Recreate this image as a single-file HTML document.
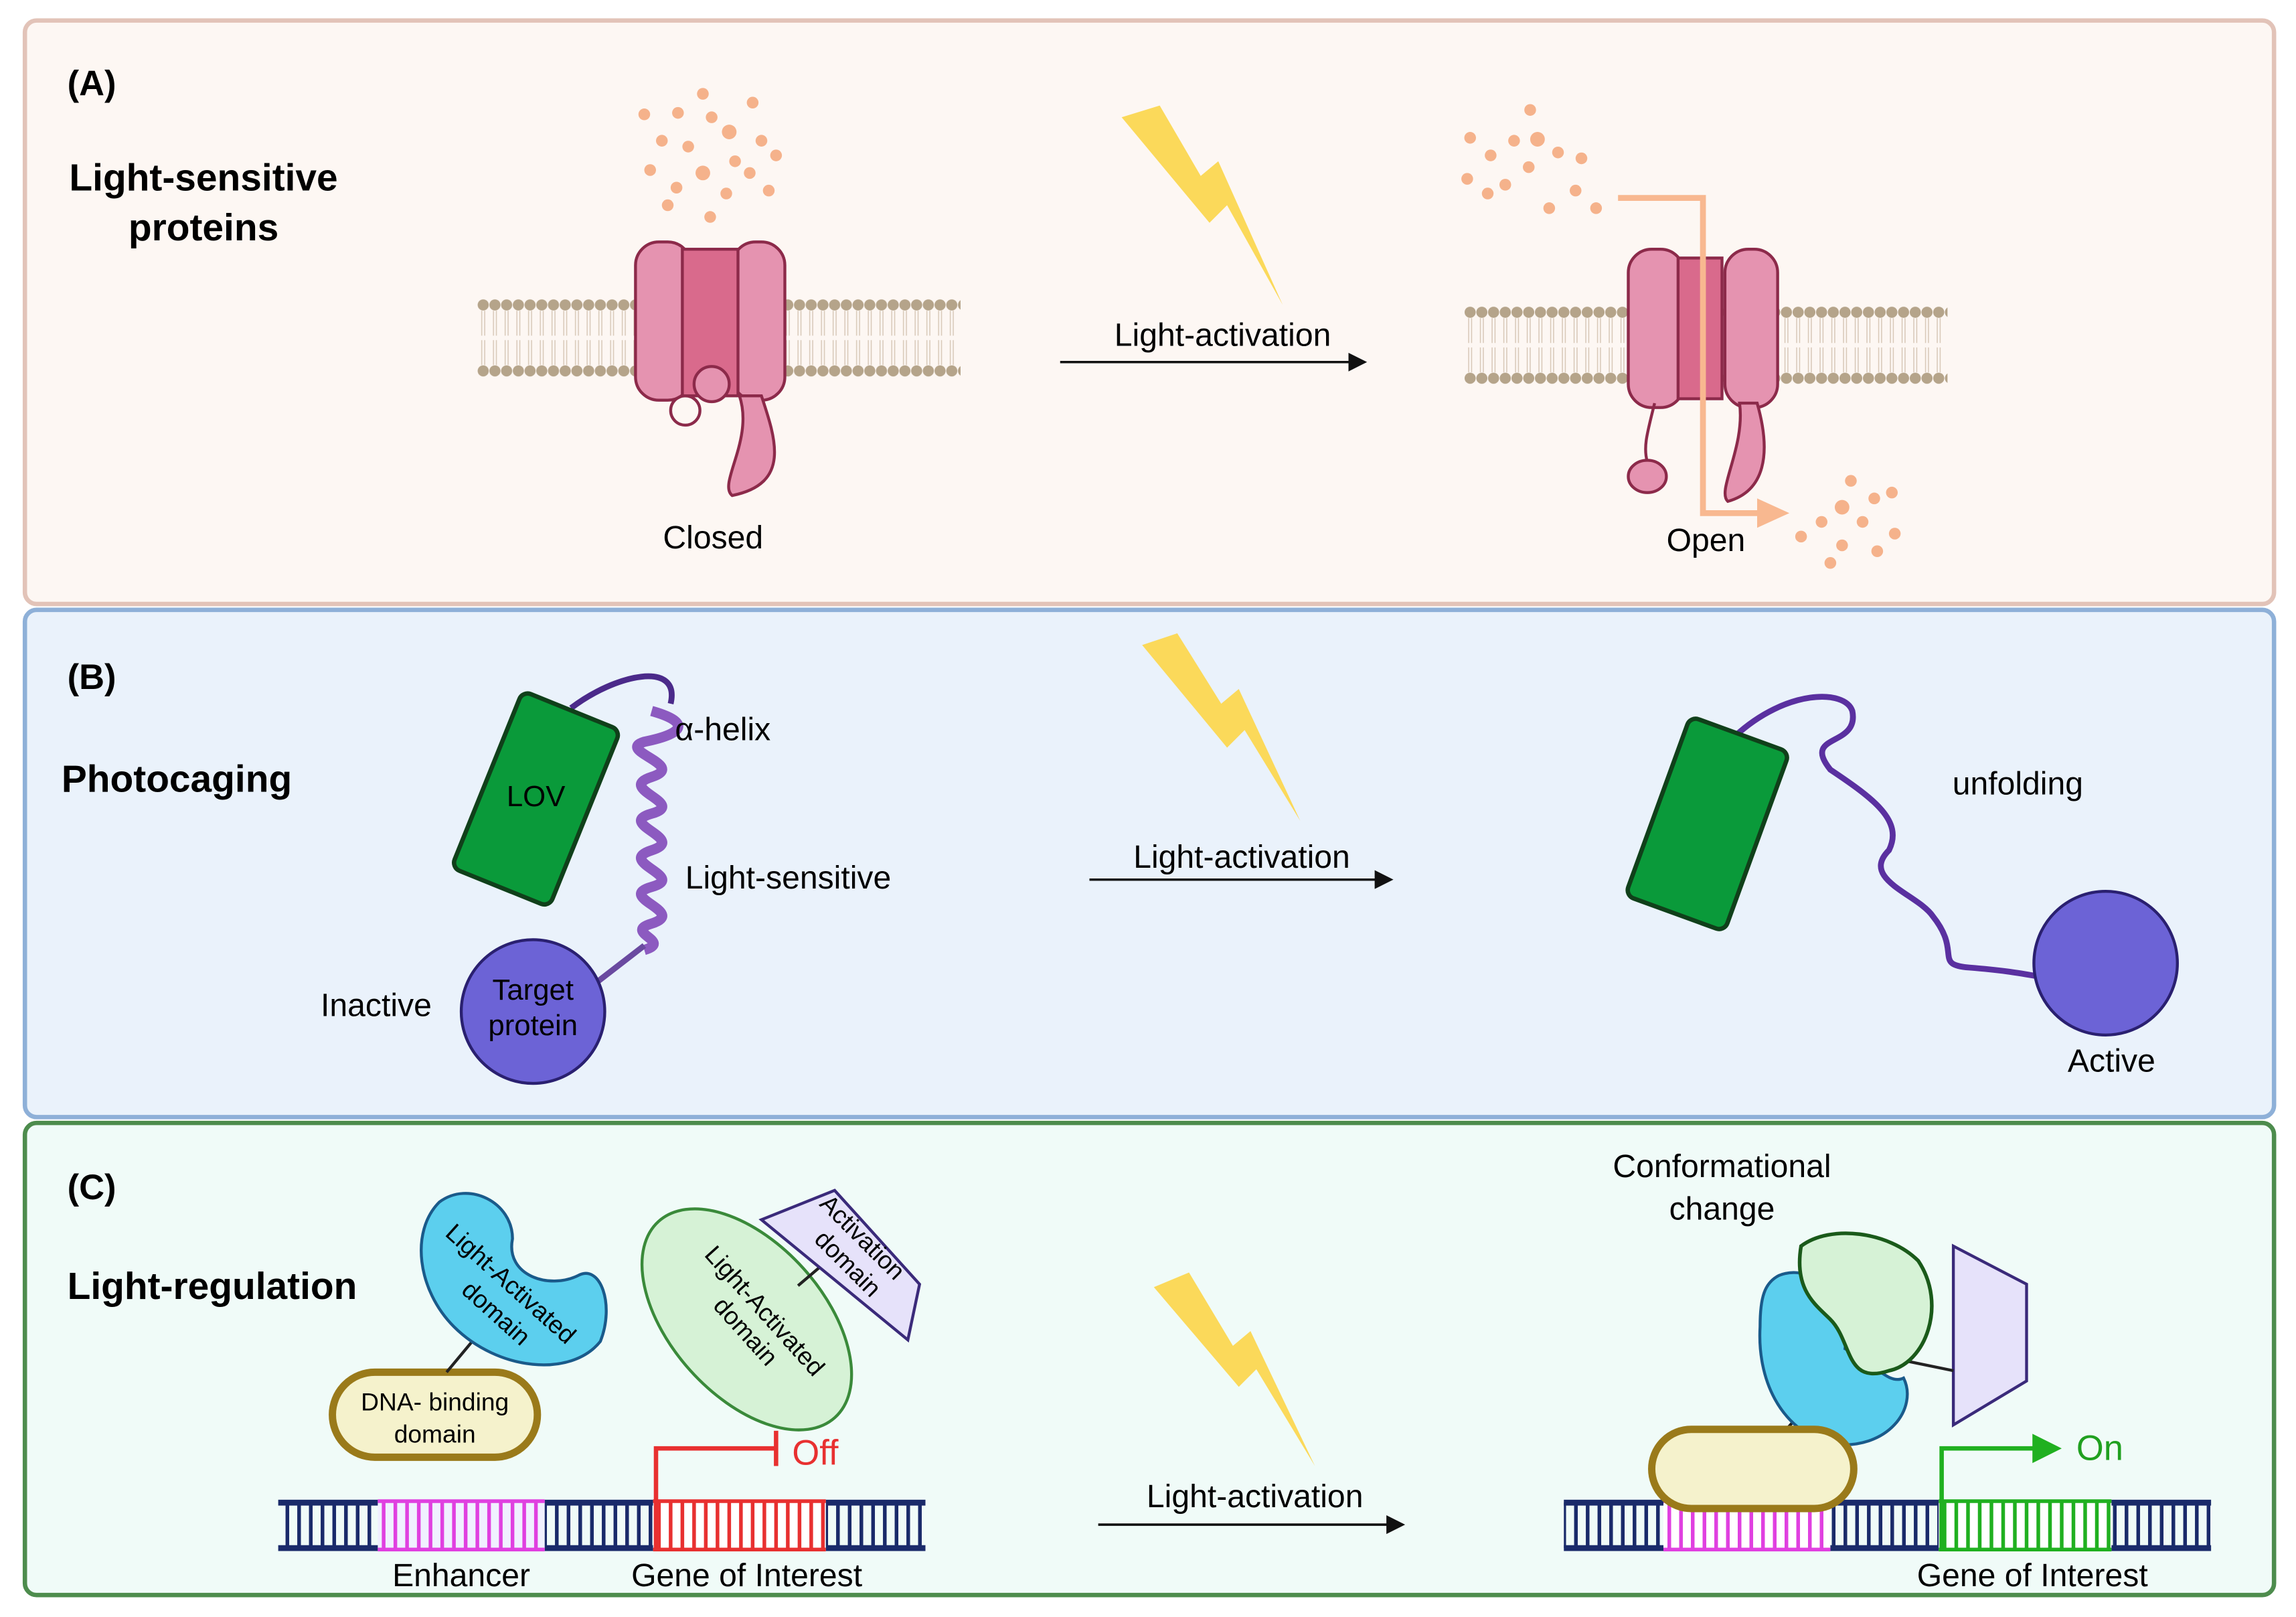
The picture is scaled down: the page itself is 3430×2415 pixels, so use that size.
<!DOCTYPE html>
<html><head><meta charset="utf-8"><style>html,body{margin:0;padding:0;background:#fff}svg{display:block}text{font-family:"Liberation Sans",sans-serif}</style></head><body>
<svg width="3430" height="2415" viewBox="0 0 1568 1103" preserveAspectRatio="none" xmlns="http://www.w3.org/2000/svg">
<defs>
<marker id="ar" markerWidth="8" markerHeight="8" refX="7" refY="4" orient="auto"><path d="M0,0L8,4L0,8z" fill="#111"/></marker>
<pattern id="memA" x="326" y="200" width="8" height="60" patternUnits="userSpaceOnUse"><circle cx="4" cy="8" r="3.8" fill="#b5a48a"/><circle cx="4" cy="53" r="3.8" fill="#b5a48a"/><path d="M3,12L3,29M5,12L5,29M3,32L3,49M5,32L5,49" stroke="#d8c8b8" stroke-width="0.7"/></pattern>
<pattern id="memB" x="1000" y="205" width="8" height="60" patternUnits="userSpaceOnUse"><circle cx="4" cy="8" r="3.8" fill="#b5a48a"/><circle cx="4" cy="53" r="3.8" fill="#b5a48a"/><path d="M3,12L3,29M5,12L5,29M3,32L3,49M5,32L5,49" stroke="#d8c8b8" stroke-width="0.7"/></pattern>
<pattern id="dna" width="8" height="34" patternUnits="userSpaceOnUse"><rect x="3" y="0" width="2.5" height="34" fill="#1a2a6a"/></pattern>
</defs>
<rect width="1568" height="1103" fill="#fff"/>
<rect x="17" y="14" width="1536" height="398" rx="8" fill="#fdf7f3" stroke="#e2c3b8" stroke-width="3"/>
<rect x="17" y="416" width="1536" height="346" rx="8" fill="#eaf2fb" stroke="#8eb0d8" stroke-width="3"/>
<rect x="17" y="766" width="1536" height="322" rx="8" fill="#f0fbf8" stroke="#4d8c4d" stroke-width="3"/>

<text x="46" y="65" font-size="24" font-weight="bold">(A)</text>
<text x="139" y="130" font-size="26" font-weight="bold" text-anchor="middle">Light-sensitive</text>
<text x="139" y="164" font-size="26" font-weight="bold" text-anchor="middle">proteins</text>
<rect x="326" y="200" width="330" height="60" fill="url(#memA)"/>
<g fill="#f4a67a" opacity="0.85">
<circle cx="440" cy="78" r="4"/><circle cx="463" cy="77" r="4"/><circle cx="480" cy="64" r="4"/><circle cx="498" cy="90" r="5"/><circle cx="514" cy="70" r="4"/><circle cx="452" cy="96" r="4"/><circle cx="470" cy="100" r="4"/><circle cx="486" cy="80" r="4"/><circle cx="502" cy="110" r="4"/><circle cx="520" cy="96" r="4"/><circle cx="444" cy="116" r="4"/><circle cx="462" cy="128" r="4"/><circle cx="480" cy="118" r="5"/><circle cx="496" cy="132" r="4"/><circle cx="512" cy="118" r="4"/><circle cx="530" cy="106" r="4"/><circle cx="456" cy="140" r="4"/><circle cx="485" cy="148" r="4"/><circle cx="525" cy="130" r="4"/>
</g>
<g stroke="#8c2a4a" stroke-width="2">
<rect x="434" y="165" width="38" height="108" rx="16" fill="#e593b0"/>
<rect x="500" y="165" width="36" height="108" rx="16" fill="#e593b0"/>
<rect x="466" y="170" width="38" height="100" fill="#d96a8c"/>
<circle cx="486" cy="262" r="12" fill="#e593b0"/>
<circle cx="468" cy="280" r="10" fill="none"/>
<path d="M520,270 C530,300 540,330 500,338 C490,330 515,300 505,270z" fill="#e593b0"/>
</g>
<text x="487" y="374" font-size="22" text-anchor="middle">Closed</text>
<polygon points="766,80 792,72 820,120 832,110 876,208 838,140 826,152" fill="#fbd95a"/>
<text x="835" y="236" font-size="22" text-anchor="middle">Light-activation</text>
<line x1="724" y1="247" x2="932" y2="247" stroke="#111" stroke-width="1.6" marker-end="url(#ar)"/>
<rect x="1000" y="205" width="330" height="60" fill="url(#memB)"/>
<g fill="#f4a67a" opacity="0.85">
<circle cx="1045" cy="75" r="4"/><circle cx="1004" cy="94" r="4"/><circle cx="1018" cy="106" r="4"/><circle cx="1034" cy="96" r="4"/><circle cx="1050" cy="95" r="5"/><circle cx="1064" cy="104" r="4"/><circle cx="1080" cy="108" r="4"/><circle cx="1002" cy="122" r="4"/><circle cx="1028" cy="126" r="4"/><circle cx="1044" cy="114" r="4"/><circle cx="1076" cy="130" r="4"/><circle cx="1016" cy="132" r="4"/><circle cx="1058" cy="142" r="4"/><circle cx="1090" cy="142" r="4"/>
<circle cx="1264" cy="328" r="4"/><circle cx="1280" cy="340" r="4"/><circle cx="1292" cy="336" r="4"/><circle cx="1258" cy="346" r="5"/><circle cx="1244" cy="356" r="4"/><circle cx="1272" cy="356" r="4"/><circle cx="1294" cy="364" r="4"/><circle cx="1230" cy="366" r="4"/><circle cx="1258" cy="372" r="4"/><circle cx="1282" cy="376" r="4"/><circle cx="1250" cy="384" r="4"/>
</g>
<g stroke="#8c2a4a" stroke-width="2">
<rect x="1112" y="170" width="38" height="108" rx="16" fill="#e593b0"/>
<rect x="1178" y="170" width="36" height="108" rx="16" fill="#e593b0"/>
<rect x="1146" y="176" width="30" height="96" fill="#d96a8c"/>
<path d="M1130,275 C1125,295 1122,305 1125,315" fill="none"/>
<ellipse cx="1125" cy="325" rx="13" ry="11" fill="#e593b0"/>
<path d="M1200,275 C1210,310 1205,335 1180,342 C1172,335 1192,305 1188,275z" fill="#e593b0"/>
</g>
<path d="M1105,135 L1163,135 L1163,350 L1205,350" fill="none" stroke="#f8b890" stroke-width="4"/>
<polygon points="1200,340 1222,350 1200,360" fill="#f8b890"/>
<text x="1165" y="376" font-size="22" text-anchor="middle">Open</text>

<text x="46" y="470" font-size="24" font-weight="bold">(B)</text>
<text x="42" y="540" font-size="26" font-weight="bold">Photocaging</text>
<path d="M390,483 C420,460 465,450 458,480" fill="none" stroke="#4b2a8a" stroke-width="4"/>
<rect x="330" y="480" width="72" height="130" rx="6" transform="rotate(22 366 545)" fill="#0a9a3a" stroke="#10401a" stroke-width="3"/>
<text x="366" y="550" font-size="20" text-anchor="middle">LOV</text>
<path d="M445,485 C470,492 470,500 440,506 C420,512 470,522 445,530 C420,538 470,548 445,555 C420,562 470,572 445,580 C420,588 470,598 445,605 C420,612 470,622 445,630 C425,636 460,642 440,648" fill="none" stroke="#8c5ac0" stroke-width="7"/>
<line x1="440" y1="645" x2="405" y2="672" stroke="#6a4aa0" stroke-width="4"/>
<circle cx="364" cy="690" r="49" fill="#6c63d6" stroke="#2a2070" stroke-width="2"/>
<text x="364" y="682" font-size="20" text-anchor="middle">Target</text>
<text x="364" y="706" font-size="20" text-anchor="middle">protein</text>
<text x="461" y="505" font-size="22">α-helix</text>
<text x="468" y="606" font-size="22">Light-sensitive</text>
<text x="219" y="693" font-size="22">Inactive</text>
<polygon points="780,440 804,432 834,480 846,470 888,560 850,498 838,510" fill="#fbd95a"/>
<text x="848" y="592" font-size="22" text-anchor="middle">Light-activation</text>
<line x1="744" y1="600" x2="950" y2="600" stroke="#111" stroke-width="1.6" marker-end="url(#ar)"/>
<path d="M1185,502 C1220,470 1260,470 1265,485 C1270,510 1230,500 1250,525 C1280,545 1300,560 1290,580 C1270,600 1310,610 1320,625 C1340,650 1320,658 1345,660 C1370,662 1380,664 1392,666" fill="none" stroke="#5a30a0" stroke-width="4"/>
<rect x="1130" y="497" width="72" height="130" rx="6" transform="rotate(20 1166 562)" fill="#0a9a3a" stroke="#10401a" stroke-width="3"/>
<circle cx="1438" cy="657" r="49" fill="#6c63d6" stroke="#2a2070" stroke-width="2"/>
<text x="1378" y="542" font-size="22" text-anchor="middle">unfolding</text>
<text x="1442" y="731" font-size="22" text-anchor="middle">Active</text>

<text x="46" y="818" font-size="24" font-weight="bold">(C)</text>
<text x="46" y="886" font-size="26" font-weight="bold">Light-regulation</text>
<rect x="190" y="1023" width="442" height="4" fill="#1a2a6a"/><rect x="190" y="1054" width="442" height="4" fill="#1a2a6a"/>
<rect x="190" y="1025" width="442" height="31" fill="url(#dna)"/>
<rect x="258" y="1023" width="114" height="35" fill="#f0f0ff"/>
<g stroke="#e040e0" stroke-width="2.5"><line x1="258" y1="1024" x2="372" y2="1024"/><line x1="258" y1="1057" x2="372" y2="1057"/></g>
<path d="M262,1025v31M270,1025v31M278,1025v31M286,1025v31M294,1025v31M302,1025v31M310,1025v31M318,1025v31M326,1025v31M334,1025v31M342,1025v31M350,1025v31M358,1025v31M366,1025v31" stroke="#e040e0" stroke-width="2.5"/>
<rect x="446" y="1023" width="118" height="35" fill="#fff"/>
<g stroke="#e83030" stroke-width="2.5"><line x1="446" y1="1024" x2="564" y2="1024"/><line x1="446" y1="1057" x2="564" y2="1057"/>
<path d="M450,1025v31M458,1025v31M466,1025v31M474,1025v31M482,1025v31M490,1025v31M498,1025v31M506,1025v31M514,1025v31M522,1025v31M530,1025v31M538,1025v31M546,1025v31M554,1025v31M562,1025v31"/></g>
<path d="M448,1058 L448,988 L530,988" fill="none" stroke="#e83030" stroke-width="3"/>
<line x1="530" y1="976" x2="530" y2="1000" stroke="#e83030" stroke-width="3"/>
<text x="541" y="999" font-size="24" fill="#e83030">Off</text>
<text x="315" y="1082" font-size="22" text-anchor="middle">Enhancer</text>
<text x="510" y="1082" font-size="22" text-anchor="middle">Gene of Interest</text>
<rect x="227" y="936" width="140" height="58" rx="29" fill="#f5f2cc" stroke="#9a7a1a" stroke-width="5"/>
<text x="297" y="962" font-size="17" text-anchor="middle">DNA- binding</text>
<text x="297" y="984" font-size="17" text-anchor="middle">domain</text>
<line x1="305" y1="936" x2="325" y2="912" stroke="#222" stroke-width="2"/>
<path d="M300,820 C320,805 350,820 350,845 C345,870 375,880 395,870 C410,862 420,890 410,915 C390,940 340,935 310,905 C285,880 280,840 300,820z" fill="#5ccfee" stroke="#1a5a8a" stroke-width="2"/>
<text x="345" y="880" font-size="17" text-anchor="middle" transform="rotate(42 345 880)">Light-Activated</text>
<text x="335" y="900" font-size="17" text-anchor="middle" transform="rotate(42 335 900)">domain</text>
<ellipse cx="510" cy="900" rx="90" ry="52" transform="rotate(48 510 900)" fill="#d6f2d6" stroke="#3a8a3a" stroke-width="2"/>
<text x="518" y="898" font-size="17" text-anchor="middle" transform="rotate(48 518 898)">Light-Activated</text>
<text x="505" y="912" font-size="17" text-anchor="middle" transform="rotate(48 505 912)">domain</text>
<line x1="545" y1="877" x2="565" y2="860" stroke="#222" stroke-width="2"/>
<polygon points="520,832 570,812 628,876 620,914" fill="#e6e2fa" stroke="#3a2a7a" stroke-width="2"/>
<text x="585" y="848" font-size="17" text-anchor="middle" transform="rotate(45 585 848)">Activation</text>
<text x="575" y="866" font-size="17" text-anchor="middle" transform="rotate(45 575 866)">domain</text>
<polygon points="788,878 812,868 842,918 854,908 898,1000 858,934 846,946" fill="#fbd95a"/>
<text x="857" y="1028" font-size="22" text-anchor="middle">Light-activation</text>
<line x1="750" y1="1040" x2="958" y2="1040" stroke="#111" stroke-width="1.6" marker-end="url(#ar)"/>
<rect x="1068" y="1023" width="442" height="4" fill="#1a2a6a"/><rect x="1068" y="1054" width="442" height="4" fill="#1a2a6a"/>
<rect x="1068" y="1025" width="442" height="31" fill="url(#dna)"/>
<rect x="1136" y="1023" width="114" height="35" fill="#fff"/>
<g stroke="#e040e0" stroke-width="2.5"><line x1="1136" y1="1024" x2="1250" y2="1024"/><line x1="1136" y1="1057" x2="1250" y2="1057"/>
<path d="M1140,1025v31M1148,1025v31M1156,1025v31M1164,1025v31M1172,1025v31M1180,1025v31M1188,1025v31M1196,1025v31M1204,1025v31M1212,1025v31M1220,1025v31M1228,1025v31M1236,1025v31M1244,1025v31"/></g>
<rect x="1324" y="1023" width="118" height="35" fill="#fff"/>
<g stroke="#20b020" stroke-width="2.5"><line x1="1324" y1="1024" x2="1442" y2="1024"/><line x1="1324" y1="1057" x2="1442" y2="1057"/>
<path d="M1328,1025v31M1336,1025v31M1344,1025v31M1352,1025v31M1360,1025v31M1368,1025v31M1376,1025v31M1384,1025v31M1392,1025v31M1400,1025v31M1408,1025v31M1416,1025v31M1424,1025v31M1432,1025v31M1440,1025v31"/></g>
<path d="M1326,1058 L1326,988 L1390,988" fill="none" stroke="#20b020" stroke-width="3"/>
<polygon points="1388,978 1408,988 1388,998" fill="#20b020"/>
<text x="1418" y="996" font-size="24" fill="#20a020">On</text>
<text x="1388" y="1082" font-size="22" text-anchor="middle">Gene of Interest</text>
<text x="1176" y="803" font-size="22" text-anchor="middle">Conformational</text>
<text x="1176" y="832" font-size="22" text-anchor="middle">change</text>
<line x1="1220" y1="975" x2="1235" y2="958" stroke="#222" stroke-width="2"/>
<polygon points="1334,850 1384,876 1384,942 1334,972" fill="#e6e2fa" stroke="#3a2a7a" stroke-width="2"/>
<path d="M1215,870 C1240,860 1265,890 1260,920 C1280,930 1290,945 1300,940 C1310,960 1290,990 1250,985 C1215,975 1200,940 1202,905 C1202,885 1205,875 1215,870z" fill="#5ccfee" stroke="#1a5a8a" stroke-width="2"/>
<line x1="1300" y1="928" x2="1334" y2="935" stroke="#222" stroke-width="2"/>
<path d="M1230,850 C1250,835 1290,840 1310,860 C1330,890 1315,930 1290,935 C1260,945 1265,915 1250,900 C1240,890 1225,880 1230,850z" fill="#d6f2d6" stroke="#1a5a1a" stroke-width="2.5"/>
<rect x="1128" y="975" width="138" height="54" rx="27" fill="#f5f2cc" stroke="#9a7a1a" stroke-width="5"/>
</svg>
</body></html>
